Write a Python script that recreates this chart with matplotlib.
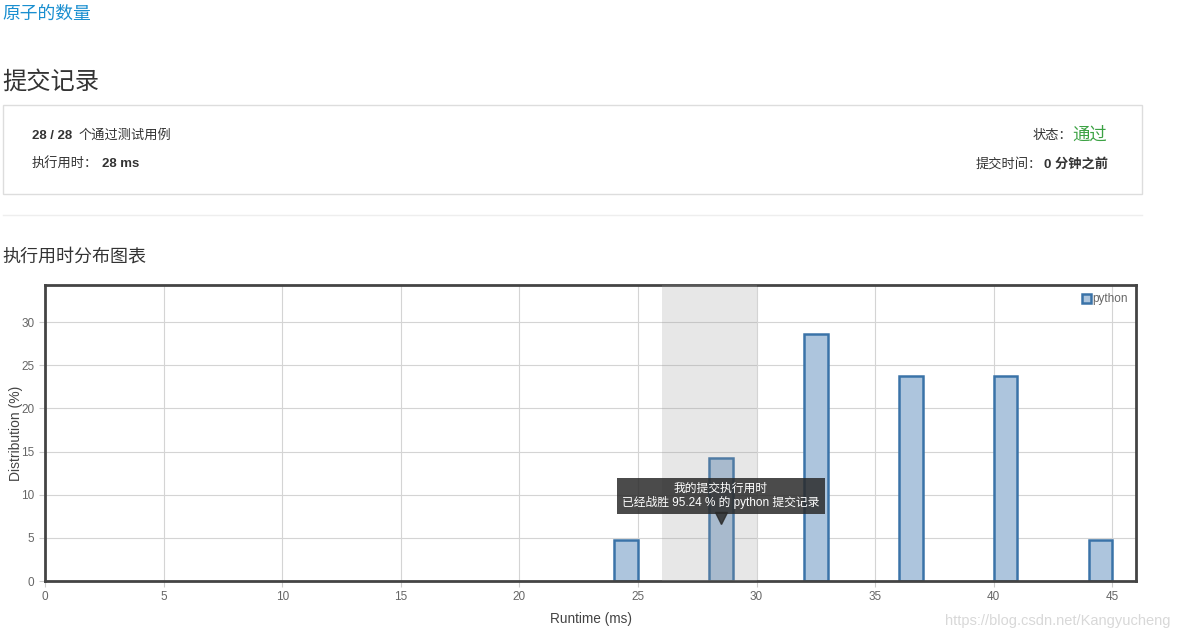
import matplotlib
matplotlib.use('Agg')
import matplotlib.pyplot as plt
from matplotlib.patches import Rectangle

plt.rcParams['font.family'] = ['Liberation Sans', 'Noto Sans CJK SC', 'DejaVu Sans']

# 数据
runtimes = [24, 28, 32, 36, 40, 44]
distribution = [4.76, 14.29, 28.57, 23.81, 23.81, 4.76]
my_runtime = 28
beats = 95.24
x_ticks = [0, 5, 10, 15, 20, 25, 30, 35, 40, 45]
y_ticks = [0, 5, 10, 15, 20, 25, 30]

W, H = 1179, 639
fig = plt.figure(figsize=(W / 100, H / 100), dpi=100)


def pos(x, y):
    return x / W, 1 - y / H


# 页面头部
fig.text(*pos(2, 14), '原子的数量', color='#1a8fd0', fontsize=12.8, va='center')
fig.text(*pos(2, 82), '提交记录', color='#333333', fontsize=17.5, va='center')

box = Rectangle(pos(3, 194), 1139 / W, 89 / H, transform=fig.transFigure,
                fill=False, ec='#dddddd', lw=1)
fig.patches.append(box)
fig.text(*pos(32, 136), '28 / 28', fontsize=9.5, weight='bold', color='#333', va='center')
fig.text(*pos(79, 136), '个通过测试用例', fontsize=9.5, color='#333', va='center')
fig.text(*pos(32, 164), '执行用时：', fontsize=9.5, color='#333', va='center')
fig.text(*pos(102, 164), '28 ms', fontsize=9.5, weight='bold', color='#333', va='center')
fig.text(*pos(1072, 136), '状态：', fontsize=9.5, color='#333', va='center', ha='right')
fig.text(*pos(1072, 135), '通过', fontsize=12.5, color='#3ca244', va='center')
fig.text(*pos(1042, 164), '提交时间：', fontsize=9.5, color='#333', va='center', ha='right')
fig.text(*pos(1044, 164), '0 分钟之前', fontsize=9.5, weight='bold', color='#333', va='center')

fig.add_artist(plt.Line2D([3 / W, 1142 / W], [1 - 215 / H] * 2, color='#eeeeee', lw=1))
fig.text(*pos(2, 257), '执行用时分布图表', fontsize=13, color='#333', va='center')

# 图表
ax = fig.add_axes([45 / W, 1 - 581 / H, (1136 - 45) / W, (581 - 285) / H])
ax.bar(runtimes, distribution, width=1, align='edge', color='#adc5dd',
       edgecolor='#3a73a8', linewidth=1.8, zorder=2, label='python')
ax.axvspan(26, 30, color='#999999', alpha=0.23, lw=0, zorder=3)

ax.set_xlim(0, 46)
ax.set_ylim(0, 34.3)
ax.set_xticks(x_ticks)
ax.set_yticks(y_ticks)
ax.grid(True, color='#d4d4d4', lw=0.8, zorder=0)
ax.set_axisbelow(True)
ax.tick_params(colors='#cccccc', labelcolor='#666666', labelsize=8.5, length=4, width=0.8)
for s in ax.spines.values():
    s.set_color('#444444')
    s.set_linewidth(2)
ax.set_xlabel('Runtime (ms)', fontsize=9.8, color='#444', labelpad=6)
ax.set_ylabel('Distribution (%)', fontsize=10, color='#444', labelpad=0)
ax.yaxis.set_label_coords(-0.02, 0.5)

leg = ax.legend(loc='upper right', fontsize=8.5, frameon=False, handlelength=0.8,
                handleheight=0.8, handletextpad=0.1, borderaxespad=0.3)
for t in leg.get_texts():
    t.set_color('#666666')

# 提示框
ax.text(my_runtime + 0.5, 9.85, '我的提交执行用时\n已经战胜 %.2f %% 的 python 提交记录' % beats,
        ha='center', va='center', color='white', fontsize=8.5, linespacing=1.05, zorder=5,
        bbox=dict(boxstyle='square,pad=0.45', fc='#2b2b2b', ec='none', alpha=0.85))
ax.plot(my_runtime + 0.5, 7.35, marker='v', markersize=8, color='#2b2b2b', alpha=0.85,
        zorder=5, clip_on=False)

fig.text(*pos(1170, 621), 'https://blog.csdn.net/Kangyucheng', fontsize=10.5,
         color='#d8d8d8', ha='right', va='center')

fig.savefig('out.png', dpi=100)
